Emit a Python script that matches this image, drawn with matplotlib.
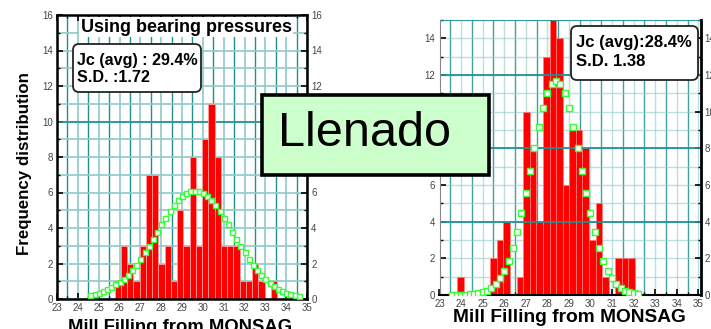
import matplotlib
matplotlib.use("Agg")
import matplotlib.pyplot as plt
from matplotlib.patches import FancyBboxPatch, Rectangle
from matplotlib.ticker import MultipleLocator
from matplotlib.transforms import IdentityTransform
import numpy as np

plt.rcParams['font.family'] = ['Liberation Sans', 'DejaVu Sans']

W, H = 711, 329

# left chart (bearing pressures)
left_start = 25.77
left_bin = 0.3
left_counts = [1, 3, 2, 1, 3, 7, 7, 2, 3, 1, 5, 3, 8, 3, 9, 11, 8, 3, 3, 3, 1, 1, 2, 1, 0, 1]
left_fit = [0.20, 0.27, 0.35, 0.45, 0.56, 0.68, 0.82, 0.95, 1.13, 1.37, 1.64, 1.94,
            2.27, 2.63, 3.01, 3.40, 3.80, 4.20, 4.58, 4.94, 5.27, 5.56, 5.79, 5.96,
            6.06, 6.10, 6.06, 5.96, 5.79, 5.56, 5.27, 4.94, 4.58, 4.20, 3.80, 3.40,
            3.01, 2.63, 2.27, 1.94, 1.64, 1.37, 1.13, 0.92, 0.74, 0.59, 0.46, 0.36,
            0.28, 0.21, 0.16]
left_fit_x = np.round(np.arange(24.6, 34.61, 0.2), 2)

# right chart
right_start = 23.83
right_bin = 0.305
right_counts = [1, 0, 0, 0, 0, 2, 3, 4, 0, 1, 10, 8, 4, 13, 15, 14, 6, 9, 9, 8, 3, 5, 1, 0, 2, 2, 2]
right_fit = [0.0, 0.0, 0.01, 0.02, 0.03, 0.05, 0.09, 0.15, 0.24, 0.39, 0.60, 0.91,
             1.33, 1.88, 2.58, 3.44, 4.45, 5.58, 6.79, 8.02, 9.18, 10.21, 11.01, 11.52,
             11.70, 11.52, 11.01, 10.21, 9.18, 8.02, 6.79, 5.58, 4.45, 3.44, 2.58, 1.88,
             1.33, 0.91, 0.60, 0.39, 0.24, 0.15, 0.09, 0.05]
right_fit_x = np.round(np.arange(23.6, 32.21, 0.2), 2)

teal_dark = '#1f8f8f'
teal_light = '#8fcaca'
green = '#33ff33'


def fx(px):
    return px / W


def fy(py):
    return 1 - py / H


fig = plt.figure(figsize=(W / 100, H / 100), dpi=100)

# ---------------- left panel
ax1 = fig.add_axes([fx(57), fy(299), 250 / W, 284 / H])
ax1.set_xlim(23, 35)
ax1.set_ylim(0, 16)
ax1.xaxis.set_major_locator(MultipleLocator(1))
ax1.xaxis.set_minor_locator(MultipleLocator(0.5))
ax1.yaxis.set_major_locator(MultipleLocator(2))
ax1.yaxis.set_minor_locator(MultipleLocator(1))
ax1.grid(which='minor', axis='x', color=teal_dark, lw=1.0)
ax1.grid(which='major', axis='x', color=teal_light, lw=1.2)
ax1.grid(which='both', axis='y', color=teal_light, lw=1.2)
ax1.axhline(10, color=teal_dark, lw=1.2, zorder=0.6)
ax1.set_axisbelow(True)
edges1 = left_start + left_bin * np.arange(len(left_counts))
ax1.bar(edges1, left_counts, width=left_bin, align='edge', color='#ff0000',
        edgecolor='#ff9d9d', lw=0.6, zorder=2)
ax1.plot(left_fit_x, left_fit, ls='none', marker='s', ms=3.6, mfc='white',
         mec=green, mew=1.0, zorder=3)
for s in ax1.spines.values():
    s.set_linewidth(1.8)
ax1.tick_params(which='both', direction='in', top=True, right=True,
                labelright=True, labelsize=7, labelcolor='#444444', pad=3)
ax1.tick_params(which='major', length=4, width=1.2)
ax1.tick_params(which='minor', length=2.5, width=1)

fig.text(fx(186), fy(27), 'Using bearing pressures', ha='center', va='center',
         fontsize=13, fontweight='bold',
         bbox=dict(facecolor='white', edgecolor='none', pad=1))
fig.add_artist(FancyBboxPatch((73, H - 92), 128, 48, transform=IdentityTransform(),
                              boxstyle='round,pad=0,rounding_size=6',
                              facecolor='white', edgecolor='#222222', lw=1.3))
fig.text(fx(77), fy(60), 'Jc (avg) : 29.4%', ha='left', va='center',
         fontsize=11.6, fontweight='bold')
fig.text(fx(77), fy(77), 'S.D. :1.72', ha='left', va='center',
         fontsize=11.6, fontweight='bold')
fig.text(fx(25), fy(164), 'Frequency distribution', rotation=90, ha='center',
         va='center', fontsize=12.2, fontweight='bold')
fig.text(fx(180), fy(327), 'Mill Filling from MONSAG', ha='center', va='center',
         fontsize=13.3, fontweight='bold')

# ---------------- right panel
ax2 = fig.add_axes([fx(439.5), fy(295), 261 / W, 275 / H])
ax2.set_xlim(23, 35.1)
ax2.set_ylim(0, 15)
ax2.xaxis.set_major_locator(MultipleLocator(1))
ax2.xaxis.set_minor_locator(MultipleLocator(0.5))
ax2.yaxis.set_major_locator(MultipleLocator(2))
ax2.yaxis.set_minor_locator(MultipleLocator(1))
edges2 = right_start + right_bin * np.arange(len(right_counts))
ax2.bar(edges2, right_counts, width=right_bin, align='edge', color='#ff0000',
        edgecolor='#ff8080', lw=0.5, zorder=2)
ax2.grid(which='minor', axis='x', color=teal_dark, lw=1.0, alpha=0.85, zorder=2.5)
ax2.grid(which='major', axis='x', color=teal_light, lw=1.0, alpha=0.6, zorder=2.5)
ax2.grid(which='both', axis='y', color=teal_light, lw=1.0, alpha=0.6, zorder=2.5)
for yv in [4, 8, 12, 15]:
    ax2.axhline(yv, color=teal_dark, lw=1.4, alpha=0.9, zorder=2.5)
ax2.plot(right_fit_x, right_fit, ls='none', marker='s', ms=3.8, mfc='white',
         mec=green, mew=1.0, zorder=3)
ax2.spines['top'].set_visible(False)
ax2.spines['left'].set_color('#888888')
ax2.spines['left'].set_linewidth(0.8)
ax2.spines['right'].set_linewidth(2)
ax2.spines['bottom'].set_linewidth(1.5)
ax2.tick_params(which='both', direction='in', right=True, labelright=True,
                labelsize=7, labelcolor='#444444', pad=3)
ax2.tick_params(which='major', length=4, width=1.2)
ax2.tick_params(which='minor', length=2.5, width=1)

fig.add_artist(FancyBboxPatch((571, H - 80), 127, 54, transform=IdentityTransform(),
                              boxstyle='round,pad=0,rounding_size=6',
                              facecolor='white', edgecolor='#222222', lw=1.3))
fig.text(fx(576), fy(43), 'Jc (avg):28.4%', ha='left', va='center',
         fontsize=12, fontweight='bold')
fig.text(fx(576), fy(61), 'S.D. 1.38', ha='left', va='center',
         fontsize=12, fontweight='bold')
fig.text(fx(569), fy(318), 'Mill Filling from MONSAG', ha='center', va='center',
         fontsize=13.8, fontweight='bold')

# ---------------- overlay label
fig.add_artist(Rectangle((262, H - 175), 227, 80, transform=IdentityTransform(),
                         facecolor='#ccffcc', edgecolor='black', lw=2.6))
fig.text(fx(364), fy(133), 'Llenado', ha='center', va='center', fontsize=35)

fig.savefig('out.png', dpi=100)
